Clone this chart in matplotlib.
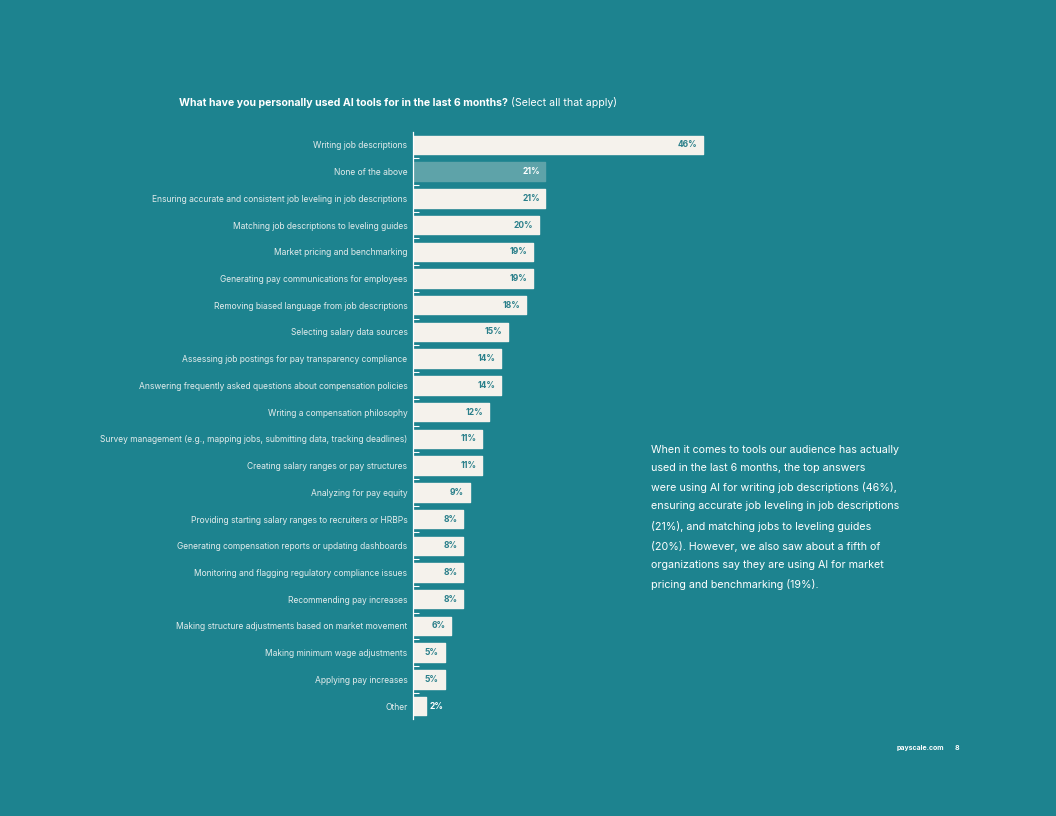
import matplotlib
matplotlib.use("Agg")
import matplotlib.pyplot as plt

categories = [
    "Writing job descriptions",
    "None of the above",
    "Ensuring accurate and consistent job leveling in job descriptions",
    "Matching job descriptions to leveling guides",
    "Market pricing and benchmarking",
    "Generating pay communications for employees",
    "Removing biased language from job descriptions",
    "Selecting salary data sources",
    "Assessing job postings for pay transparency compliance",
    "Answering frequently asked questions about compensation policies",
    "Writing a compensation philosophy",
    "Survey management (e.g., mapping jobs, submitting data, tracking deadlines)",
    "Creating salary ranges or pay structures",
    "Analyzing for pay equity",
    "Providing starting salary ranges to recruiters or HRBPs",
    "Generating compensation reports or updating dashboards",
    "Monitoring and flagging regulatory compliance issues",
    "Recommending pay increases",
    "Making structure adjustments based on market movement",
    "Making minimum wage adjustments",
    "Applying pay increases",
    "Other",
]
values = [46, 21, 21, 20, 19, 19, 18, 15, 14, 14, 12, 11, 11, 9, 8, 8, 8, 8, 6, 5, 5, 2]

title_bold = "What have you personally used AI tools for in the last 6 months?"
title_rest = " (Select all that apply)"
paragraph = ("When it comes to tools our audience has actually\n"
             "used in the last 6 months, the top answers\n"
             "were using AI for writing job descriptions (46%),\n"
             "ensuring accurate job leveling in job descriptions\n"
             "(21%), and matching jobs to leveling guides\n"
             "(20%). However, we also saw about a fifth of\n"
             "organizations say they are using AI for market\n"
             "pricing and benchmarking (19%).")

BG = "#1d838f"
CREAM = "#f5f2ec"
LIGHT = "#5ea3a9"
VALC = "#2a7f8a"
LABC = "#e3ecec"

plt.rcParams["font.family"] = ["Inter", "DejaVu Sans"]

W, H = 1056, 816
fig = plt.figure(figsize=(W / 100, H / 100), dpi=100, facecolor=BG)

x0 = 413
unit = 290 / 46
xmax = 50
top_px, bot_px = 131.6, 719.4
ax = fig.add_axes([x0 / W, 1 - bot_px / H, xmax * unit / W, (bot_px - top_px) / H])
ax.set_facecolor(BG)
ax.set_xlim(0, xmax)
n = len(categories)
ax.set_ylim(n - 0.5, -0.5)

ypos = list(range(n))
colors = [LIGHT if c == "None of the above" else CREAM for c in categories]
ax.barh(ypos, values, height=0.69, color=colors, edgecolor=colors,
        linewidth=1.0, joinstyle="round", zorder=2)

for y, v, c in zip(ypos, values, categories):
    if v >= 4:
        ax.text(v - 0.9, y, f"{v}%", ha="right", va="center", fontsize=6.1,
                fontweight="bold", color=("white" if c == "None of the above" else VALC), zorder=3)
    else:
        ax.text(v + 0.7, y, f"{v}%", ha="left", va="center", fontsize=6.1,
                fontweight="bold", color="white", zorder=3)

ax.set_yticks(ypos)
ax.set_yticklabels(categories, fontsize=6.1, color=LABC)
ax.tick_params(axis="y", which="major", length=0, pad=4)
ax.set_yticks([i + 0.5 for i in range(n - 1)], minor=True)
ax.tick_params(axis="y", which="minor", direction="in", length=4, width=0.8, color="white")
ax.set_xticks([])
for s in ["top", "right", "bottom"]:
    ax.spines[s].set_visible(False)
ax.spines["left"].set_color("white")
ax.spines["left"].set_linewidth(0.9)
ax.spines["left"].set_zorder(4)

t1 = fig.text(179 / W, 1 - 103 / H, title_bold, fontsize=7.6, fontweight="bold",
              color="white", ha="left", va="center")
fig.canvas.draw()
r = fig.canvas.get_renderer()
bb = t1.get_window_extent(r)
fig.text(bb.x1 / W, 1 - 103 / H, title_rest, fontsize=7.6, color="white",
         ha="left", va="center")

fig.text(651 / W, 1 - 445 / H, paragraph, fontsize=7.7, color="white", ha="left",
         va="top", linespacing=2.02)

fig.text(944 / W, 1 - 748 / H, "payscale.com", fontsize=5, fontweight="bold",
         color="white", ha="right", va="center")
fig.text(957 / W, 1 - 748 / H, "8", fontsize=5, fontweight="bold",
         color="white", ha="center", va="center")

fig.savefig("out.png", dpi=100, facecolor=BG)
